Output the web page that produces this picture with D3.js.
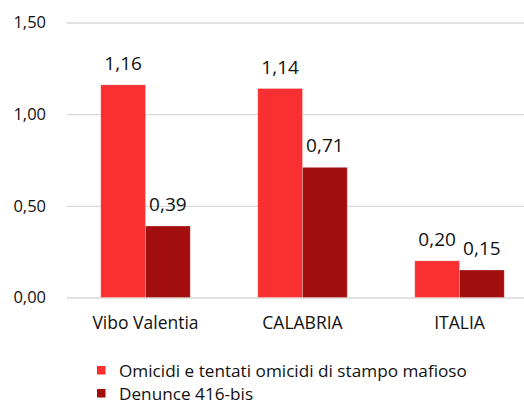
<!DOCTYPE html>
<html><head><meta charset="utf-8">
<script src="https://cdn.jsdelivr.net/npm/d3@7"></script>
<style>body{margin:0;background:#fff}svg{display:block;font-family:"Open Sans",sans-serif}</style>
</head><body><svg id="c" width="524" height="404"></svg>
<script>
const categories = ["Vibo Valentia", "CALABRIA", "ITALIA"];
const seriesNames = ["Omicidi e tentati omicidi di stampo mafioso", "Denunce 416-bis"];
const omicidi = [1.16, 1.14, 0.20];
const denunce = [0.39, 0.71, 0.15];
const yTicks = [0, 0.5, 1, 1.5];
const colors = ["#F92F32", "#A20D0D"];

const svg = d3.select("#c");
const fmt = v => d3.format(".2f")(v).replace(".", ",");
const y = d3.scaleLinear().domain([0, 1.5]).range([297.5, 22.5]);
const x = d3.scaleBand().domain(categories).range([67, 538]).paddingInner(0.43).paddingOuter(0.215);
const xs = d3.scaleBand().domain([0, 1]).range([0, x.bandwidth()]);

// gridlines
const yAxis = d3.axisLeft(y).tickValues(yTicks).tickSize(-(524 - 67)).tickFormat(fmt);
const ga = svg.append("g").attr("transform", "translate(67,0)").call(yAxis);
ga.select(".domain").remove();
ga.selectAll(".tick line").attr("stroke", "#d9d9d9").attr("stroke-width", 1.3);
ga.selectAll(".tick text").attr("x", -21).attr("font-size", 16.5).attr("fill", "#111").attr("font-family", "Open Sans, sans-serif");

const data = categories.map((c, i) => ({c, vals: [omicidi[i], denunce[i]]}));
const g = svg.append("g");
data.forEach(d => {
  d.vals.forEach((v, j) => {
    g.append("rect")
      .attr("x", x(d.c) + xs(j))
      .attr("y", y(v))
      .attr("width", xs.bandwidth())
      .attr("height", y(0) - y(v))
      .attr("fill", colors[j])
      .attr("stroke", "rgba(255,255,255,0.35)").attr("stroke-width", 0.8);
    g.append("text")
      .attr("x", x(d.c) + xs(j) + xs.bandwidth() / 2)
      .attr("y", y(v) - 15)
      .attr("text-anchor", "middle")
      .attr("font-size", 19).attr("fill", "#111")
      .text(fmt(v));
  });
});

// x axis labels
const xAxis = d3.axisBottom(x).tickSize(0);
const gx = svg.append("g").attr("transform", "translate(0,297.5)").call(xAxis);
gx.select(".domain").remove();
gx.selectAll(".tick text").attr("dy", 0).attr("y", 31).attr("font-size", 17.5).attr("fill", "#111").attr("font-family", "Open Sans, sans-serif");

// legend
const lg = svg.append("g");
seriesNames.forEach((n, i) => {
  const base = 377 + i * 23;
  lg.append("rect").attr("x", 97).attr("y", base - 11).attr("width", 8.5).attr("height", 8.5).attr("fill", colors[i]);
  lg.append("text").attr("x", 119).attr("y", base).attr("font-size", 17.2).attr("fill", "#111").text(n);
});
</script></body></html>
